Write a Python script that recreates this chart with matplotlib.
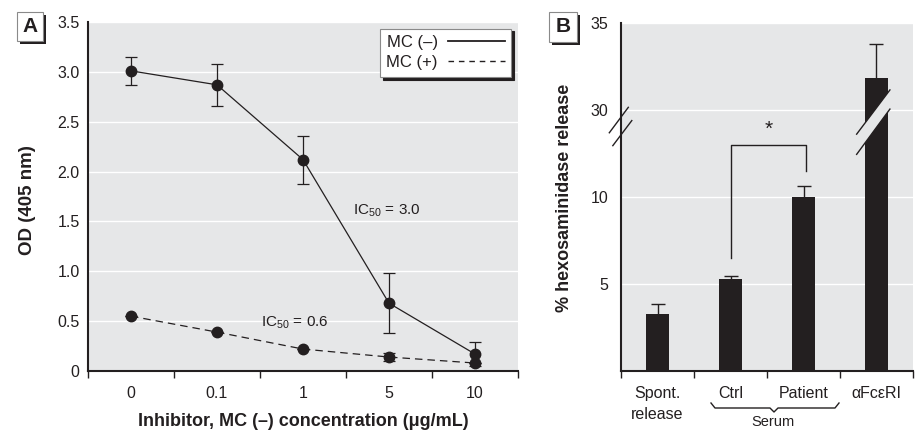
import numpy as np
import matplotlib
matplotlib.use("Agg")
import matplotlib.pyplot as plt
from matplotlib.patches import Rectangle, Polygon
from matplotlib.lines import Line2D

plt.rcParams['font.family'] = ['Liberation Sans Narrow', 'Liberation Sans', 'DejaVu Sans']
plt.rcParams['font.stretch'] = 'condensed'
plt.rcParams['mathtext.default'] = 'regular'

INK = '#231f20'
BG = '#e6e7e8'

# panel A data
conc = ['0', '0.1', '1', '5', '10']
mc_minus = [3.01, 2.87, 2.12, 0.68, 0.17]
mc_minus_err = [0.14, 0.21, 0.24, 0.30, 0.12]
mc_plus = [0.55, 0.39, 0.22, 0.14, 0.08]
mc_plus_err = [0.0, 0.0, 0.0, 0.04, 0.0]

# panel B data
groups = ['Spont.\nrelease', 'Ctrl', 'Patient', '\u03b1Fc\u03b5RI']
release = [3.3, 5.3, 10.0, 31.8]
release_err = [0.55, 0.15, 0.6, 2.0]

fig = plt.figure(figsize=(9.2, 4.32), dpi=100)
W, H = 920, 432


def fx(px):
    return px / W


def fy(py):
    return 1 - py / H


def panel_letter(x0, y0, x1, y1, letter):
    fig.patches.append(Rectangle((fx(x0 + 3), fy(y1 + 3)), fx(x1 - x0), (y1 - y0) / H,
                                 transform=fig.transFigure, facecolor=INK, edgecolor='none'))
    fig.patches.append(Rectangle((fx(x0), fy(y1)), fx(x1 - x0), (y1 - y0) / H,
                                 transform=fig.transFigure, facecolor='white', edgecolor='#8a8a8a', lw=0.8))
    fig.text(fx((x0 + x1) / 2), fy((y0 + y1) / 2), letter, ha='center', va='center',
             fontsize=15, fontweight='bold', color=INK)


def style_axes(ax):
    ax.set_facecolor(BG)
    for s in ['top', 'right']:
        ax.spines[s].set_visible(False)
    for s in ['left', 'bottom']:
        ax.spines[s].set_linewidth(1.5)
        ax.spines[s].set_color(INK)
    ax.grid(axis='y', color='white', lw=1.0)
    ax.set_axisbelow(True)
    ax.tick_params(axis='y', length=0, pad=6, labelsize=11.5, labelcolor=INK)
    ax.tick_params(axis='x', which='major', length=5, width=1, color=INK, labelbottom=False)
    ax.tick_params(axis='x', which='minor', length=0, pad=11, labelsize=11.5, labelcolor=INK)


# ---------------- panel A ----------------
axA = fig.add_axes([fx(88), fy(371), fx(518 - 88), (371 - 22) / H])
style_axes(axA)
xa = np.arange(len(conc))
axA.errorbar(xa, mc_minus, yerr=mc_minus_err, color=INK, lw=0.9, marker='o', ms=7.5,
             capsize=4, elinewidth=0.9, capthick=0.9, label='MC (\u2013)', zorder=3)
axA.errorbar(xa, mc_plus, yerr=mc_plus_err, color=INK, lw=0.9, marker='o', ms=7.5,
             capsize=4, elinewidth=0.9, capthick=0.9, dashes=(6, 4), label='MC (+)', zorder=3)
axA.set_xlim(-0.5, len(conc) - 0.5)
axA.set_ylim(0, 3.5)
axA.set_yticks([0, 0.5, 1.0, 1.5, 2.0, 2.5, 3.0, 3.5])
axA.set_yticklabels(['0', '0.5', '1.0', '1.5', '2.0', '2.5', '3.0', '3.5'])
axA.set_xticks(np.arange(len(conc) + 1) - 0.5)
axA.set_xticks(xa, minor=True)
axA.set_xticklabels(conc, minor=True)

hl, hp = axA.get_legend_handles_labels()
handles = [Line2D([], [], color=INK, lw=1.3),
           Line2D([], [], color=INK, lw=1.0, dashes=(4, 3.5))]
leg = axA.legend(handles, hp, loc='upper right', markerfirst=False, fontsize=12,
                 fancybox=False, shadow={'color': INK, 'alpha': 1}, framealpha=1,
                 edgecolor='#8a8a8a', borderaxespad=0.4, handlelength=3.4,
                 labelspacing=0.3, borderpad=0.4, handletextpad=0.6)
leg.get_frame().set_linewidth(0.8)
for t in leg.get_texts():
    t.set_color(INK)

axA.text(2.97, 1.61, 'IC$_{50}$ = 3.0', ha='center', va='center', fontsize=11, color=INK)
axA.text(1.91, 0.48, 'IC$_{50}$ = 0.6', ha='center', va='center', fontsize=11, color=INK)

fig.text(fx(303), fy(421), 'Inhibitor, MC (\u2013) concentration (\u03bcg/mL)', ha='center',
         va='center', fontsize=13, fontweight='bold', color=INK)
fig.text(fx(28), fy(200), 'OD (405 nm)', rotation=90, ha='center', va='center',
         fontsize=13.5, fontweight='bold', color=INK)
panel_letter(17, 12, 43, 41, 'A')


# ---------------- panel B ----------------
def fwd(v):
    v = np.asarray(v, float)
    return np.where(v <= 13.5, v, np.where(v >= 28.5, v - 15, 13.5))


def inv(d):
    d = np.asarray(d, float)
    return np.where(d <= 13.5, d, d + 15)


axB = fig.add_axes([fx(621), fy(371), fx(913 - 621), (371 - 22.7) / H])
style_axes(axB)
axB.set_yscale('function', functions=(fwd, inv))
axB.set_ylim(0, 35)
axB.set_yticks([5, 10, 30, 35])
axB.set_yticklabels(['5', '10', '30', '35'])
axB.yaxis.set_minor_locator(matplotlib.ticker.NullLocator())
axB.tick_params(axis='y', pad=9)
xb = np.arange(len(groups))
axB.bar(xb, release, width=0.32, color=INK, zorder=2)
eb = axB.errorbar(xb, release, yerr=[np.zeros(len(groups)), release_err], fmt='none',
                  ecolor=INK, elinewidth=1.0, capsize=5, capthick=1.0, zorder=2)
eb[1][0].set_visible(False)
axB.set_xlim(-0.5, len(groups) - 0.5)
axB.set_xticks(np.arange(len(groups) + 1) - 0.5)
axB.set_xticks(xb, minor=True)
axB.set_xticklabels(groups, minor=True, va='top', linespacing=1.45)

# significance bracket
axB.plot([1, 1, 2.04, 2.04], [6.5, 13.0, 13.0, 11.5], color=INK, lw=1.0, zorder=3)
axB.annotate('*', xy=(1.52, 13.0), xytext=(0, 4), textcoords='offset points',
             ha='center', va='bottom', fontsize=15, color=INK)

# axis break marks
for (x0, y0, x1, y1) in [(-0.040, 0.684, 0.025, 0.757), (-0.028, 0.647, 0.037, 0.719)]:
    axB.plot([x0, x1], [y0, y1], transform=axB.transAxes, color=INK, lw=1.0, clip_on=False, zorder=4)

# bar break
axB.add_patch(Polygon([(0.807, 0.680), (0.921, 0.807), (0.921, 0.752), (0.807, 0.622)],
                      closed=True, transform=axB.transAxes, facecolor=BG, edgecolor='none', zorder=3))
for (x0, y0, x1, y1) in [(0.807, 0.680, 0.921, 0.807), (0.807, 0.622, 0.921, 0.752)]:
    axB.plot([x0, x1], [y0, y1], transform=axB.transAxes, color=INK, lw=1.0, zorder=4)

# serum brace
bx0, bx1, bxm, by0, by1 = 711, 839, 774, 403, 409
brace = [(bx0, by0), (bx0 + 4, by1 - 1), (bxm - 4, by1 - 1), (bxm, by1 + 3),
         (bxm + 4, by1 - 1), (bx1 - 4, by1 - 1), (bx1, by0)]
fig.lines.append(Line2D([fx(p[0]) for p in brace], [fy(p[1]) for p in brace],
                        transform=fig.transFigure, color=INK, lw=1.0))
fig.text(fx(773), fy(426), 'Serum', ha='center', va='baseline', fontsize=10.5, color=INK)

fig.text(fx(565), fy(198), '% hexosaminidase release', rotation=90, ha='center',
         va='center', fontsize=13, fontweight='bold', color=INK)
panel_letter(549, 12, 577, 42, 'B')

fig.savefig('out.png', dpi=100)
